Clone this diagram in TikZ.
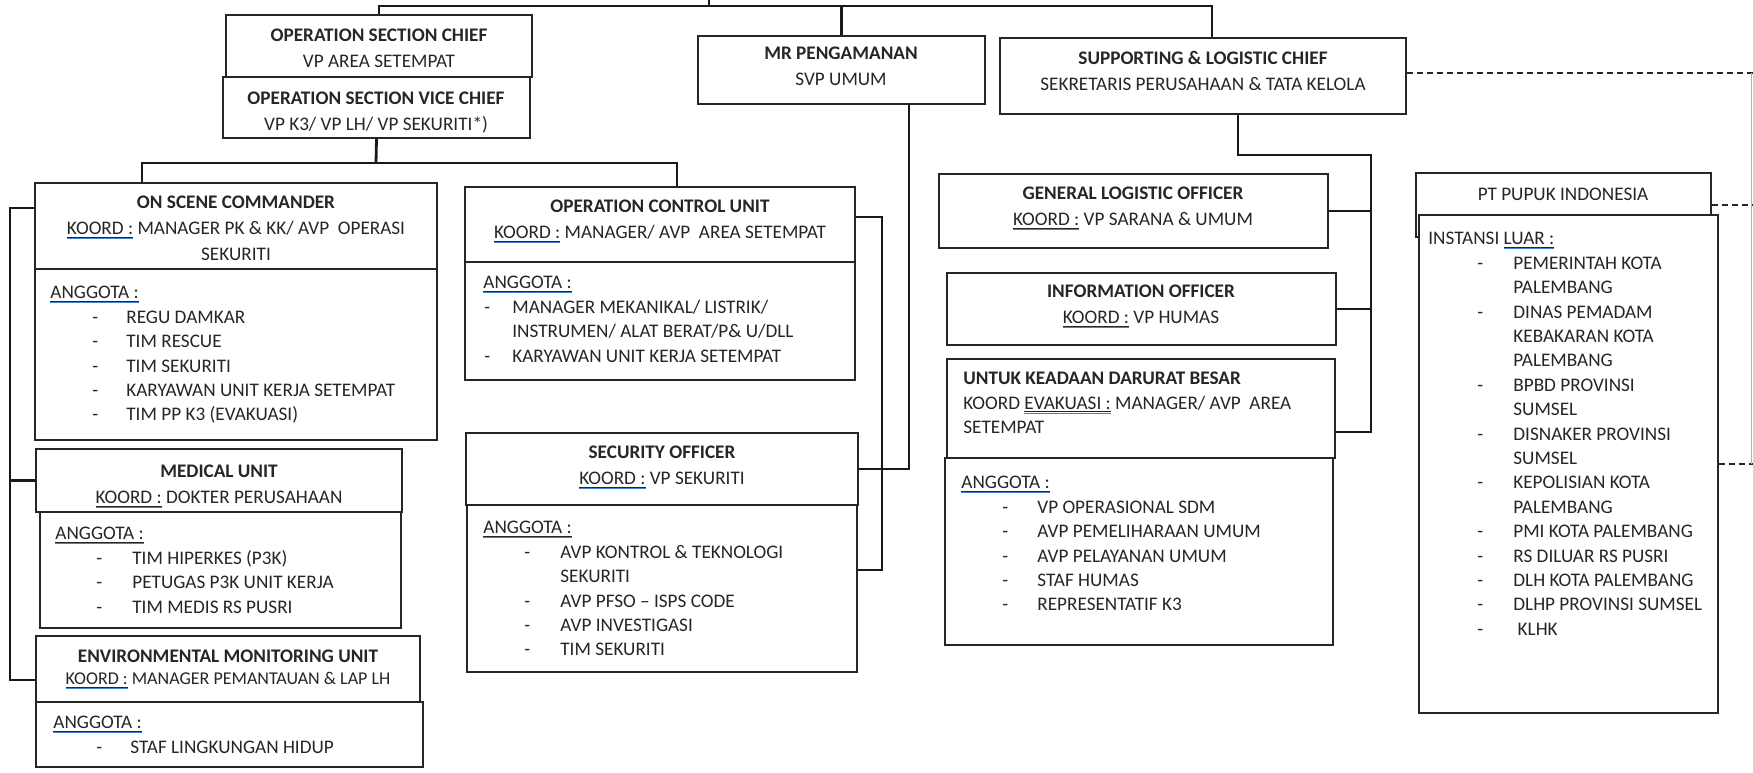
\documentclass[tikz,border=0pt]{standalone}
\usepackage{fontspec}
\setmainfont{Carlito}
\usetikzlibrary{fit}

\definecolor{spellblue}{RGB}{70,130,205}
\newlength\ulen
% underline with the blue squiggle below it
\newcommand{\ulb}[1]{\settowidth{\ulen}{#1}\makebox[0pt][l]{\rule[-1.4pt]{\ulen}{0.4pt}}\makebox[0pt][l]{\textcolor{spellblue}{\rule[-2.3pt]{\ulen}{0.55pt}}}#1}
% list item: indent, dash column, text
\newcommand{\itm}[3]{\hspace*{#1pt}\makebox[#2pt][l]{-}#3}

\tikzset{
  box/.style={draw=black!85, line width=0.7pt, inner sep=0pt, fill=white},
  ttl/.style={inner sep=0pt, align=center, anchor=north, text=black!85, font=\fontsize{9.6}{12.8}\selectfont},
  lst/.style={inner sep=0pt, align=left, anchor=north west, text=black!85, font=\fontsize{9.6}{12.2}\selectfont},
  conn/.style={line width=1.4pt, black!90},
  dsh/.style={dash pattern=on 3pt off 2pt, line width=0.6pt, black!85},
}

\begin{document}
\begin{tikzpicture}[x=0.5pt,y=-0.5pt]
\useasboundingbox (0,0) rectangle (1753,772);

% chiefs
\node[box, fit={(226,15) (532,77)}] (osc) {};
\node[ttl] (oscT) at (379,29) {\textbf{OPERATION SECTION CHIEF}\\VP AREA SETEMPAT};
\node[box, fit={(223,77) (530,138)}] (osvc) {};
\node[ttl] (osvcT) at (376,92) {\textbf{OPERATION SECTION VICE CHIEF}\\VP K3/ VP LH/ VP SEKURITI*)};
\node[box, fit={(698,36) (985,104)}] (mr) {};
\node[ttl] (mrT) at (841,47) {\textbf{MR PENGAMANAN}\\SVP UMUM};
\node[box, fit={(1000,38) (1406,114)}] (sup) {};
\node[ttl] (supT) at (1203,51) {\textbf{SUPPORTING \& LOGISTIC CHIEF}\\SEKRETARIS PERUSAHAAN \& TATA KELOLA};

% operation section
\node[box, fit={(35,183) (437,269)}] (onsc) {};
\node[ttl] (onscT) at (236,196) {\textbf{ON SCENE COMMANDER}\\\ulb{KOORD :} MANAGER PK \& KK/ AVP\ \ OPERASI\\SEKURITI};
\node[box, fit={(35,269) (437,440)}] (onscM) {};
\node[lst] (onscL) at (50,286) {\ulb{ANGGOTA :}\\
  \itm{21}{17}{REGU DAMKAR}\\
  \itm{21}{17}{TIM RESCUE}\\
  \itm{21}{17}{TIM SEKURITI}\\
  \itm{21}{17}{KARYAWAN UNIT KERJA SETEMPAT}\\
  \itm{21}{17}{TIM PP K3 (EVAKUASI)}};

\node[box, fit={(36,449) (402,512)}] (med) {};
\node[ttl] (medT) at (219,465) {\textbf{MEDICAL UNIT}\\\ulb{KOORD :} DOKTER PERUSAHAAN};
\node[box, fit={(40,512) (401,628)}] (medM) {};
\node[lst] (medL) at (55,527) {\ulb{ANGGOTA :}\\
  \itm{20.5}{18}{TIM HIPERKES (P3K)}\\
  \itm{20.5}{18}{PETUGAS P3K UNIT KERJA}\\
  \itm{20.5}{18}{TIM MEDIS RS PUSRI}};

\node[box, fit={(36,636) (420,702)}] (env) {};
\node[ttl] (envT) at (228,650) {\textbf{ENVIRONMENTAL MONITORING UNIT}\\[-2pt]{\fontsize{9}{12}\selectfont\ulb{KOORD :} MANAGER PEMANTAUAN \& LAP LH}};
\node[box, fit={(36,702) (423,767)}] (envM) {};
\node[lst] (envL) at (53,716) {\ulb{ANGGOTA :}\\
  \itm{21.5}{17}{STAF LINGKUNGAN HIDUP}};

\node[box, fit={(465,187) (855,262)}] (ocu) {};
\node[ttl] (ocuT) at (660,200) {\textbf{OPERATION CONTROL UNIT}\\\ulb{KOORD :} MANAGER/ AVP\ \ AREA SETEMPAT};
\node[box, fit={(465,262) (855,380)}] (ocuM) {};
\node[lst] (ocuL) at (483,276) {\ulb{ANGGOTA :}\\
  \itm{0.5}{14}{MANAGER MEKANIKAL/ LISTRIK/}\\
  \hspace*{14.5pt}INSTRUMEN/ ALAT BERAT/P\& U/DLL\\
  \itm{0.5}{14}{KARYAWAN UNIT KERJA SETEMPAT}};

\node[box, fit={(466,433) (858,505)}] (sec) {};
\node[ttl] (secT) at (662,446) {\textbf{SECURITY OFFICER}\\\ulb{KOORD :} VP SEKURITI};
\node[box, fit={(467,505) (857,672)}] (secM) {};
\node[lst] (secL) at (483,521) {\ulb{ANGGOTA :}\\
  \itm{20.5}{18}{AVP KONTROL \& TEKNOLOGI}\\
  \hspace*{38.5pt}SEKURITI\\
  \itm{20.5}{18}{AVP PFSO -- ISPS CODE}\\
  \itm{20.5}{18}{AVP INVESTIGASI}\\
  \itm{20.5}{18}{TIM SEKURITI}};

% supporting & logistic section
\node[box, fit={(939,174) (1328,248)}] (glo) {};
\node[ttl] (gloT) at (1133,187) {\textbf{GENERAL LOGISTIC OFFICER}\\\ulb{KOORD :} VP SARANA \& UMUM};
\node[box, fit={(947,273) (1336,345)}] (info) {};
\node[ttl] (infoT) at (1141,285) {\textbf{INFORMATION OFFICER}\\\ulb{KOORD :} VP HUMAS};
\node[box, fit={(947,359) (1335,458)}] (dar) {};
\node[lst] (darL) at (963,372) {\textbf{UNTUK KEADAAN DARURAT BESAR}\\
  KOORD \ulb{EVAKUASI :} MANAGER/ AVP\ \ AREA\\
  SETEMPAT};
\node[box, fit={(945,458) (1333,645)}] (darM) {};
\node[lst] (darML) at (961,476) {\ulb{ANGGOTA :}\\
  \itm{20.5}{17.5}{VP OPERASIONAL SDM}\\
  \itm{20.5}{17.5}{AVP PEMELIHARAAN UMUM}\\
  \itm{20.5}{17.5}{AVP PELAYANAN UMUM}\\
  \itm{20.5}{17.5}{STAF HUMAS}\\
  \itm{20.5}{17.5}{REPRESENTATIF K3}};

% outside parties
\node[box, fit={(1416,173) (1711,237)}] (ptpi) {};
\node[ttl] (ptpiT) at (1563,188) {PT PUPUK INDONESIA};
\node[box, fit={(1419,215) (1718,713)}] (luar) {};
\node[lst] (luarL) at (1428,232) {INSTANSI \ulb{LUAR :}\\
  \itm{24.5}{18}{PEMERINTAH KOTA}\\
  \hspace*{42.5pt}PALEMBANG\\
  \itm{24.5}{18}{DINAS PEMADAM}\\
  \hspace*{42.5pt}KEBAKARAN KOTA\\
  \hspace*{42.5pt}PALEMBANG\\
  \itm{24.5}{18}{BPBD PROVINSI}\\
  \hspace*{42.5pt}SUMSEL\\
  \itm{24.5}{18}{DISNAKER PROVINSI}\\
  \hspace*{42.5pt}SUMSEL\\
  \itm{24.5}{18}{KEPOLISIAN KOTA}\\
  \hspace*{42.5pt}PALEMBANG\\
  \itm{24.5}{18}{PMI KOTA PALEMBANG}\\
  \itm{24.5}{18}{RS DILUAR RS PUSRI}\\
  \itm{24.5}{18}{DLH KOTA PALEMBANG}\\
  \itm{24.5}{18}{DLHP PROVINSI SUMSEL}\\
  \itm{24.5}{18}{\ KLHK}};

% lines from the top
\coordinate (top) at (709,0);
\coordinate (bus) at (709,6);
\draw[conn] (top) -- (bus);
\draw[conn] (osc.north) |- (bus) -| ([xshift=4.5pt]sup.north);
\draw[conn] (mr.north) -- (mr.north |- bus);

% operation section lines
\coordinate (obus) at (376,163);
\draw[conn] (osvc.south) -- (obus);
\draw[conn] ([xshift=-47pt]onsc.north) |- (obus) -| ([xshift=8.5pt]ocu.north);
\coordinate (lbar) at (10,208);
\draw[conn] ([yshift=9pt]onsc.west) -- (lbar) |- ([yshift=-5.5pt]env.west);
\draw[conn] (med.west) -- (med.west -| lbar);
\coordinate (ocuR) at (882,217);
\draw[conn] ([yshift=3.75pt]ocu.east) -- (ocuR) |- ([yshift=9.25pt]secM.east);
\draw[conn] ([xshift=33.75pt]mr.south) |- (sec.east);

% supporting section lines
\coordinate (rbus) at (1371,155);
\draw[conn] ([xshift=17.5pt]sup.south) |- (rbus) |- ([yshift=-11.75pt]dar.east);
\draw[conn] (glo.east) -- (glo.east -| rbus);
\draw[conn] (info.east) -- (info.east -| rbus);

% coordination lines to the right
\coordinate (e1) at (1753,73);
\coordinate (e2) at (1753,205);
\coordinate (e3) at (1753,464);
\draw[dsh] (sup.east |- e1) -- (e1);
\draw[dsh] (ptpi.east) -- (e2);
\draw[dsh] (luar.east) -- (e3);
\draw[black!30, line width=0.5pt] ([xshift=-1pt]e1) -- ([xshift=-1pt]e3);
\end{tikzpicture}
\end{document}
